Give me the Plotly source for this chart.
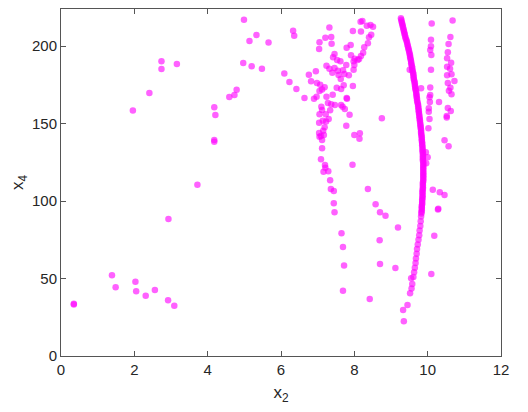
import plotly.graph_objects as go

# Scattered points (x2, x4)
x2_scatter = [
    0.35, 0.35, 1.39, 1.49, 2.03, 2.05, 2.31, 2.56, 2.92, 3.09, 2.93,
    1.96, 2.41, 2.74, 2.74, 3.16, 3.72,
    4.18, 4.21, 4.18, 4.18, 4.59, 4.73, 4.79,
    4.99, 5.14, 5.33, 4.97, 5.20, 5.48, 5.66,
    6.33, 6.36, 6.09, 6.23, 6.42, 6.64,
    6.76, 6.82, 6.95, 6.98, 6.90, 6.97,
    7.05, 7.04, 7.32, 7.21, 7.37, 7.38,
    7.24, 7.32, 7.46, 7.42, 7.53, 7.62,
    7.46, 7.55, 7.69, 7.40, 7.57, 7.63, 7.73, 7.85,
    7.07, 7.12, 7.05, 7.19, 7.24, 7.52, 7.64, 7.71,
    7.41, 7.80, 7.28, 7.37, 7.47, 7.64, 7.68, 7.74,
    7.10, 7.12, 7.05, 7.22, 7.34, 7.30, 7.14, 7.23, 7.04,
    7.19, 7.15, 7.04, 7.05, 7.09, 7.17, 7.12, 7.12,
    7.09, 7.20, 7.21, 7.16, 7.29, 7.34, 7.36, 7.44, 7.44, 7.46,
    7.78, 7.87, 8.00, 8.15, 8.14, 7.95, 8.37, 8.58, 8.75,
    7.96, 8.18, 8.17, 8.22, 8.34, 8.44, 8.51, 8.46, 8.40, 8.37, 8.27, 8.24,
    8.18, 8.13, 8.09, 8.01, 7.98, 8.00, 7.98, 7.91, 7.79, 7.90, 7.96, 7.78, 7.79,
    7.65, 7.69, 7.72, 7.69, 8.42, 8.70, 8.85, 8.69, 8.70, 9.12, 9.19,
    9.51,
    10.11, 10.09, 10.09, 10.07, 10.10, 10.09, 10.07, 10.07, 10.05, 10.06,
    10.03, 10.03, 10.05, 10.02, 10.31, 9.82, 9.95, 10.00, 9.96,
    10.68, 10.62, 10.57, 10.55, 10.53, 10.64, 10.53, 10.61, 10.65, 10.53,
    10.73, 10.55, 10.62, 10.58, 10.65, 10.55, 10.63, 10.52, 10.52, 10.46, 10.57,
    10.14, 10.33, 10.46, 10.29, 10.28, 10.18, 10.10,
]
x4_scatter = [
    33.8, 33.2, 52.1, 44.3, 48.0, 41.8, 38.9, 42.6, 36.0, 32.5, 88.4,
    158.4, 169.8, 190.2, 185.3, 188.5, 110.6,
    160.5, 155.6, 139.4, 138.3, 167.2, 168.5, 171.9,
    217.1, 203.4, 207.2, 189.2, 187.0, 185.5, 202.3,
    210.0, 206.8, 182.3, 176.9, 172.4, 166.6,
    181.6, 177.3, 183.8, 176.2, 166.1, 167.4,
    202.5, 198.2, 212.0, 205.5, 206.0, 201.6,
    187.4, 185.5, 195.0, 192.8, 191.1, 190.2,
    185.9, 184.2, 184.4, 182.9, 181.4, 178.8, 182.0, 181.2,
    175.1, 172.1, 171.1, 173.5, 167.4, 173.2, 172.4, 174.8,
    168.7, 166.1, 163.3, 162.5, 162.0, 162.0, 160.9, 159.5,
    160.9, 158.8, 156.0, 156.0, 158.6, 153.0, 151.9, 151.3, 150.6,
    147.6, 145.4, 144.0, 141.6, 142.0, 142.7, 139.4, 134.1,
    127.0, 123.3, 121.6, 119.0, 119.2, 113.4, 107.8, 106.5, 98.6, 92.8,
    148.7, 155.8, 142.7, 143.8, 140.3, 123.5, 107.8, 98.0, 153.4,
    209.8, 209.4, 215.8, 216.3, 213.2, 213.7, 212.6, 207.4, 205.7, 201.9, 199.3, 195.8,
    193.7, 191.7, 191.1, 191.9, 190.2, 187.9, 184.8, 194.1, 199.0, 200.8, 174.3, 187.9, 166.6,
    79.2, 70.4, 58.5, 42.2, 36.8, 92.8, 90.6, 74.7, 59.4, 56.8, 83.0,
    184.8,
    214.7, 204.2, 199.9, 197.5, 194.3, 184.8, 173.4, 168.5, 167.0, 164.0,
    159.9, 157.7, 153.0, 147.0, 164.0, 172.8, 131.5, 128.3, 124.4,
    216.5, 205.9, 201.4, 196.1, 192.2, 189.3, 186.8, 185.5, 181.9, 181.2,
    177.5, 176.2, 173.2, 171.3, 168.9, 160.1, 158.2, 155.0, 154.0, 139.3, 135.4,
    107.4, 105.7, 103.9, 95.1, 94.6, 77.7, 52.9,
]

# Points forming the dense arc (top to bottom)
x2_curve = [
    9.27, 9.28, 9.29, 9.30, 9.31, 9.32, 9.33, 9.34, 9.35, 9.36, 9.37, 9.38,
    9.39, 9.40, 9.42, 9.43, 9.44, 9.45, 9.46, 9.47, 9.48, 9.49,
    9.50, 9.51, 9.52, 9.52, 9.53, 9.54, 9.55, 9.55, 9.56, 9.57,
    9.58, 9.58, 9.59, 9.60, 9.61, 9.61, 9.62, 9.62, 9.63, 9.64,
    9.65, 9.65, 9.66, 9.66, 9.67, 9.68, 9.69, 9.69, 9.70, 9.70,
    9.71, 9.71, 9.72, 9.73, 9.74, 9.74, 9.75, 9.75, 9.76, 9.76,
    9.77, 9.77, 9.78, 9.78, 9.79, 9.79, 9.80, 9.80, 9.81, 9.81,
    9.82, 9.82, 9.82, 9.83, 9.83, 9.84, 9.84, 9.84, 9.85, 9.85,
    9.85, 9.86, 9.86, 9.86, 9.86, 9.87, 9.87, 9.87, 9.87, 9.87,
    9.87, 9.88, 9.88, 9.88, 9.88, 9.88, 9.88, 9.88, 9.88, 9.88,
    9.88, 9.88, 9.88, 9.88, 9.87, 9.87, 9.87, 9.87, 9.87, 9.86,
    9.86, 9.86, 9.86, 9.86, 9.86, 9.85, 9.85, 9.85, 9.85, 9.84,
    9.84, 9.84, 9.84, 9.83, 9.83,
    9.82, 9.81, 9.80, 9.78, 9.77, 9.75, 9.73, 9.71, 9.70, 9.68,
    9.67, 9.65, 9.63, 9.61, 9.55, 9.58, 9.56, 9.52, 9.45, 9.33, 9.35,
]
x4_curve = [
    218, 217, 216, 215, 214, 213, 212, 211, 210, 209, 208, 207,
    206, 205, 204, 203, 202, 201, 200, 199, 198, 197,
    196, 195, 194, 193, 192, 191, 190, 189, 188, 187,
    186, 185, 184, 183, 182, 181, 180, 179, 178, 177,
    176, 175, 174, 173, 172, 171, 170, 169, 168, 167,
    166, 165, 164, 163, 162, 161, 160, 159, 158, 157,
    156, 155, 154, 153, 152, 151, 150, 149, 148, 147,
    146, 145, 144, 143, 142, 141, 140, 139, 138, 137,
    136, 135, 134, 133, 132, 131, 130, 129, 128, 127,
    126, 125, 124, 123, 122, 121, 120, 119, 118, 117,
    116, 115, 114, 113, 112, 111, 110, 109, 108, 107,
    106, 105, 104, 103, 102, 101, 100, 99, 98, 97,
    96, 95, 94, 93, 92,
    90, 87, 84, 81, 78, 75, 72, 69, 66, 63,
    60, 57, 54, 51, 50.2, 46.5, 43.5, 40.5, 33.0, 29.7, 22.4,
]

x_ticks = [0, 2, 4, 6, 8, 10, 12]
y_ticks = [0, 50, 100, 150, 200]

FONT = "Liberation Sans, Arial, sans-serif"

fig = go.Figure()
fig.add_trace(go.Scatter(
    x=x2_scatter + x2_curve,
    y=x4_scatter + x4_curve,
    mode="markers",
    marker=dict(size=6.5, color="rgba(255,0,255,0.62)", line=dict(width=0)),
    showlegend=False,
))

axis_common = dict(
    showline=True, linecolor="#555555", linewidth=1, mirror="ticks",
    ticks="inside", ticklen=5, tickcolor="#555555", tickwidth=1,
    showgrid=False, zeroline=False, automargin=False,
    tickfont=dict(family=FONT, size=15, color="#262626"),
)

# page body adds an 8px margin, so the figure is sized to fit the window
fig.update_layout(
    width=520, height=404,
    margin=dict(l=53, r=27, t=1, b=56),
    paper_bgcolor="white", plot_bgcolor="white",
    xaxis=dict(range=[0, 12], tickvals=x_ticks,
               title=dict(text="x<sub>2</sub>", standoff=9,
                          font=dict(family=FONT, size=17, color="#262626")),
               **axis_common),
    yaxis=dict(range=[0, 224], tickvals=y_ticks,
               title=dict(text="x<sub>4</sub>", standoff=12,
                          font=dict(family=FONT, size=17, color="#262626")),
               **axis_common),
)

fig.write_html("out.html")
